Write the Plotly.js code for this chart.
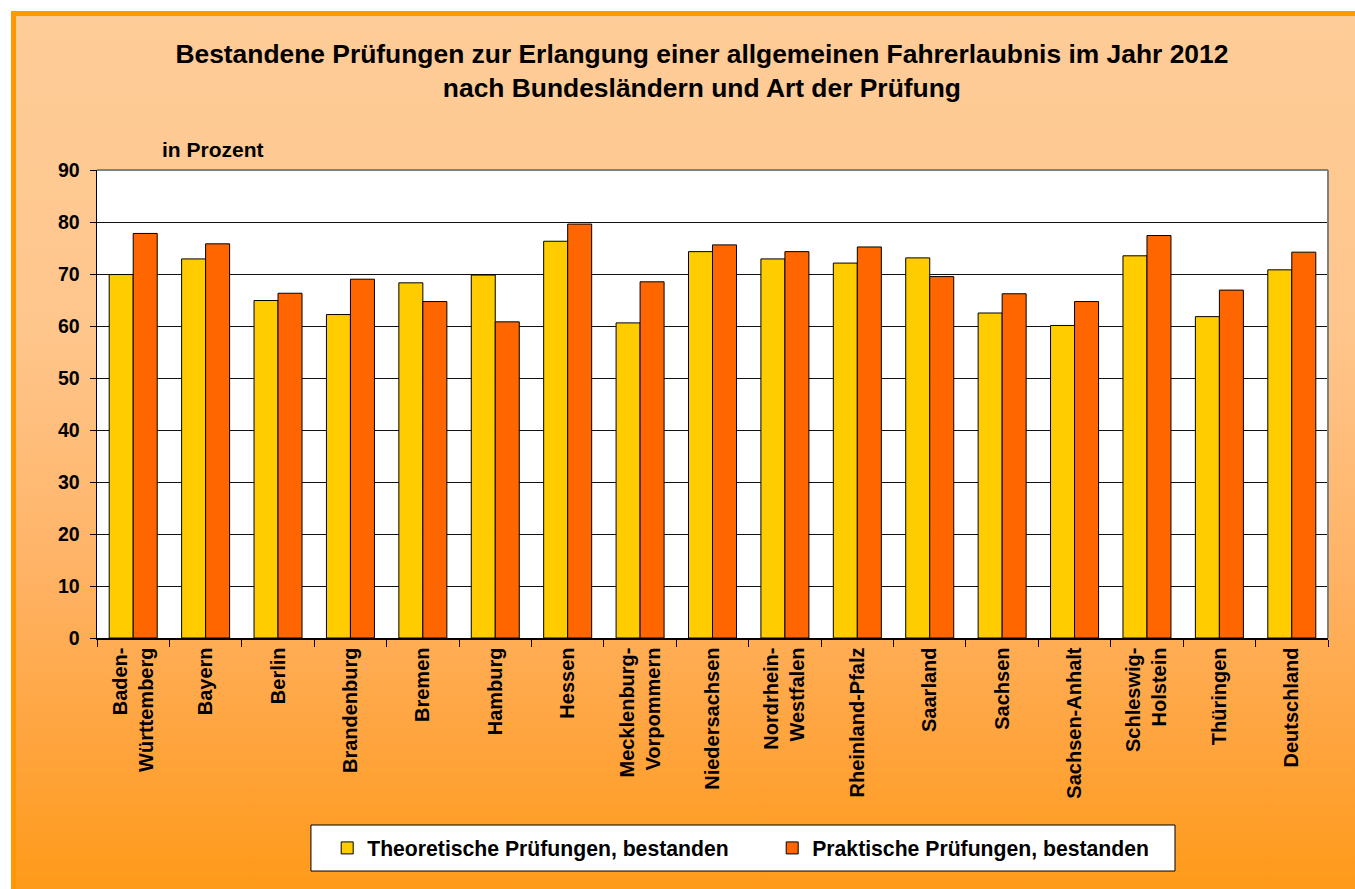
<!DOCTYPE html>
<html><head><meta charset="utf-8">
<script src="https://cdn.plot.ly/plotly-3.0.1.min.js"></script>
<style>
html,body{margin:0;padding:0;background:#fff;width:1355px;height:889px;overflow:hidden}
#bg{position:absolute;left:11px;top:11px;width:1360px;height:890px;border-top:5px solid #FF9900;border-left:5px solid #FF9900;
background:linear-gradient(to bottom,#FECC98 0%,#FFC68C 35%,#FFB366 62%,#FFA43D 82%,#FF9915 100%)}
#chart{position:absolute;left:0;top:0;width:1355px;height:889px}
</style></head>
<body><div id="bg"></div><div id="chart"></div>
<script>
const categories = ['Baden-<br>Württemberg','Bayern','Berlin','Brandenburg','Bremen','Hamburg','Hessen','Mecklenburg-<br>Vorpommern','Niedersachsen','Nordrhein-<br>Westfalen','Rheinland-Pfalz','Saarland','Sachsen','Sachsen-Anhalt','Schleswig-<br>Holstein','Thüringen','Deutschland'];
const theoretisch = [69.9,72.9,64.9,62.2,68.3,69.8,76.3,60.6,74.3,72.9,72.1,73.1,62.5,60.1,73.5,61.8,70.8];
const praktisch = [77.8,75.8,66.3,69.0,64.7,60.8,79.6,68.5,75.6,74.3,75.2,69.5,66.2,64.7,77.4,66.9,74.2];
const seriesNames = ['Theoretische Prüfungen, bestanden','Praktische Prüfungen, bestanden'];
const yTicks = [0,10,20,30,40,50,60,70,80,90];

const FONT = 'Arial, "Liberation Sans", sans-serif';
const traces = [
  {type:'bar', name:seriesNames[0], x:categories, y:theoretisch, marker:{color:'#FFCC00', line:{color:'#000', width:1}}, hoverinfo:'y'},
  {type:'bar', name:seriesNames[1], x:categories, y:praktisch, marker:{color:'#FF6600', line:{color:'#000', width:1}}, hoverinfo:'y'}
];
const layout = {
  width:1355, height:889,
  paper_bgcolor:'rgba(0,0,0,0)', plot_bgcolor:'#fff',
  margin:{l:97, r:27, t:170, b:251},
  font:{family:FONT, color:'#000', weight:'bold'},
  title:{text:'Bestandene Prüfungen zur Erlangung einer allgemeinen Fahrerlaubnis im Jahr 2012<br>nach Bundesländern und Art der Prüfung',
    x:0.518, xanchor:'center', y:0.929, yanchor:'middle', font:{size:26.4, family:FONT, weight:'bold', color:'#000'}},
  barmode:'group', bargap:0.337, bargroupgap:0,
  xaxis:{type:'category', tickangle:-90, tickson:'boundaries', ticks:'outside', ticklen:7, tickcolor:'#000',
    showline:true, linecolor:'#000', linewidth:1.5, showgrid:false,
    tickfont:{size:20, family:FONT, weight:'bold', color:'#000'}},
  yaxis:{range:[0,90], tickvals:yTicks, ticks:'outside', ticklen:6, tickcolor:'#000',
    showline:true, linecolor:'#000', linewidth:1.5, showgrid:true, gridcolor:'#111', gridwidth:1, zeroline:false,
    ticklabelstandoff:6, tickfont:{size:19.5, family:FONT, weight:'bold', color:'#000'}},
  showlegend:true,
  legend:{orientation:'h', xref:'paper', yref:'paper', x:0.187, xanchor:'left', y:-0.449, yanchor:'middle',
    bgcolor:'rgba(0,0,0,0)', borderwidth:0, entrywidth:400, traceorder:'normal',
    font:{size:21.2, family:FONT, weight:'bold', color:'#000'}},
  shapes:[
    {type:'rect', xref:'paper', yref:'paper', x0:0.1738, x1:0.8757, y0:-0.4979, y1:-0.3996, fillcolor:'#fff', line:{color:'#000', width:1}, layer:'below'},
    {type:'line', xref:'paper', yref:'paper', x0:0, x1:1, y0:1, y1:1, line:{color:'#808080', width:2}},
    {type:'line', xref:'paper', yref:'paper', x0:1, x1:1, y0:0, y1:1, line:{color:'#808080', width:2}}
  ],
  annotations:[
    {text:'in Prozent', xref:'paper', yref:'paper', x:0.094, y:1.043, xanchor:'center', yanchor:'middle', showarrow:false,
     font:{size:21, family:FONT, weight:'bold', color:'#000'}}
  ]
};
Plotly.newPlot('chart', traces, layout, {displayModeBar:false, staticPlot:true});
</script></body></html>
